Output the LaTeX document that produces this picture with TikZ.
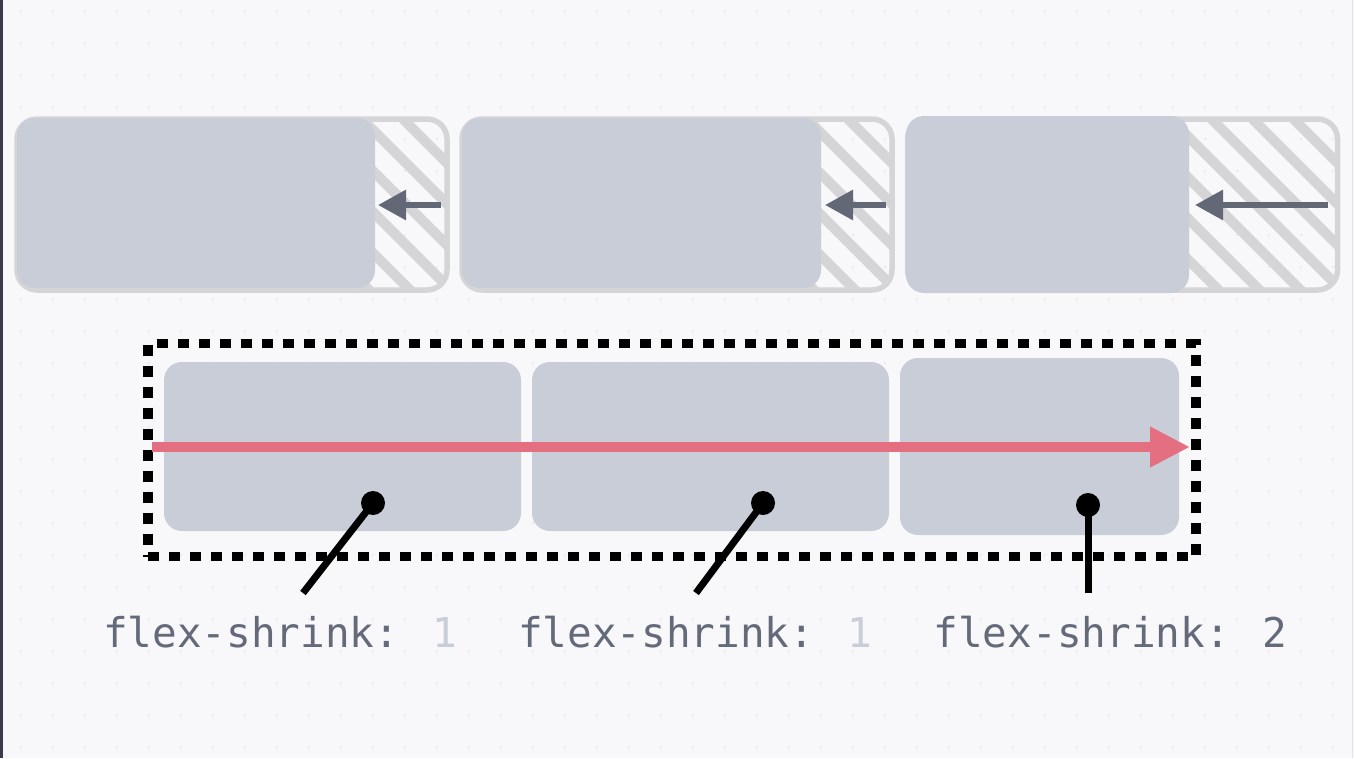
\documentclass[tikz,border=0pt]{standalone}
\usepackage{fontspec}
\usetikzlibrary{arrows.meta}
\newfontfamily\codefont{DejaVu Sans Mono}
\definecolor{paper}{HTML}{F8F8FA}
\definecolor{griddot}{HTML}{E4E4EA}
\definecolor{edgedark}{HTML}{3B3B4B}
\definecolor{edgelight}{HTML}{E2E2E8}
\definecolor{framegray}{HTML}{D5D5D8}
\definecolor{itemfill}{HTML}{C9CDD8}
\definecolor{arrowgray}{HTML}{636876}
\definecolor{axisred}{HTML}{E46F80}
\definecolor{codegray}{HTML}{646A7A}
\definecolor{faintgray}{HTML}{C9CDD8}

\begin{document}
\begin{tikzpicture}[x=1pt,y=-1pt,
  slot/.style={draw=framegray, line width=5.5pt, rounded corners=20pt, inner sep=0pt, outer sep=0pt},
  item/.style={fill=itemfill, rounded corners=18pt, inner sep=0pt, outer sep=0pt},
  hatch/.style={framegray, line width=10pt},
  squeeze/.style={arrowgray, line width=6pt, -{Triangle[length=28pt,width=29pt]}},
  flexline/.style={draw=black, line width=9.5pt, dash pattern=on 11pt off 10pt, inner sep=0pt, outer sep=0pt},
  mainaxis/.style={axisred, line width=10pt, -{Triangle[length=40pt,width=38pt]}},
  knob/.style={circle, fill=black, minimum size=24pt, inner sep=0pt},
  pinline/.style={black, line width=7pt},
  cssline/.style={font=\codefont\fontsize{41}{41}\selectfont, text=codegray, anchor=base, inner sep=0pt}]
\useasboundingbox (0,0) rectangle (1354,758);
% Paper with its faint dot grid
\fill[paper] (0,0) rectangle (1354,758);
\foreach \gx in {21,53,...,1350}
  \foreach \gy in {11,43,...,750}
    \fill[griddot] (\gx,\gy) circle (1.2pt);
\fill[edgedark] (0,0) rectangle (3,758);
\draw[edgelight, line width=1.5pt] (1352.5,0) -- (1352.5,758);

% Top row: the slots each item had before shrinking
\node[slot, minimum width=430pt, minimum height=171pt] (slotA) at (232,204.5) {};
\node[slot, minimum width=430pt, minimum height=171pt] (slotB) at (677,204.5) {};
\node[slot, minimum width=430pt, minimum height=171pt] (slotC) at (1122.5,204.5) {};
% Hatching inside the slots
\foreach \s in {slotA,slotB,slotC} {
  \begin{scope}
    \clip[rounded corners=18pt] (\s.north west) rectangle (\s.south east);
    \foreach \h in {-188,-147,...,452}
      \draw[hatch] ([xshift=\h pt]\s.north west) -- ++(200,200);
  \end{scope}
}
% The shrunk items
\node[item, minimum width=358pt, minimum height=170pt] (wideA) at (196,203) {};
\node[item, minimum width=359pt, minimum height=170pt] (wideB) at (641.5,203) {};
\node[item, minimum width=283pt, minimum height=177pt] (wideC) at (1047.5,204.5) {};
% How far each one shrank
\coordinate (pullA) at (441,205);
\coordinate (pullB) at (886,205);
\coordinate (pullC) at (1328,205);
\draw[squeeze] (pullA) -- ([xshift=3pt]wideA.east |- pullA);
\draw[squeeze] (pullB) -- ([xshift=4pt]wideB.east |- pullB);
\draw[squeeze] (pullC) -- ([xshift=6pt]wideC.east |- pullC);

% Bottom row: the flex container
\node[flexline, minimum width=1048pt, minimum height=213pt] (flexbox) at (672,450) {};
\node[item, minimum width=357pt, minimum height=169pt] (itemA) at (342.5,446.5) {};
\node[item, minimum width=357pt, minimum height=169pt] (itemB) at (710.5,446.5) {};
\node[item, minimum width=279pt, minimum height=177pt] (itemC) at (1039.5,446.5) {};
% Main axis
\draw[mainaxis] ([xshift=4pt,yshift=3pt]flexbox.west) -- ([xshift=-6pt,yshift=3pt]flexbox.east);

% Pins to the labels
\node[knob] (knobA) at (373,503) {};
\node[knob] (knobB) at (763,503) {};
\node[knob] (knobC) at (1088,505) {};
\coordinate (tailA) at (303,593);
\coordinate (tailB) at (696,593);
\coordinate (tailC) at (1088,593);
\draw[pinline] (knobA.center) -- (tailA);
\draw[pinline] (knobB.center) -- (tailB);
\draw[pinline] (knobC.center) -- (tailC);

% Labels
\node[cssline] (labA) at (280,647) {flex-shrink: \textcolor{faintgray}{1}};
\node[cssline] (labB) at (695,647) {flex-shrink: \textcolor{faintgray}{1}};
\node[cssline] (labC) at (1110.5,647) {flex-shrink: 2};
\end{tikzpicture}
\end{document}
